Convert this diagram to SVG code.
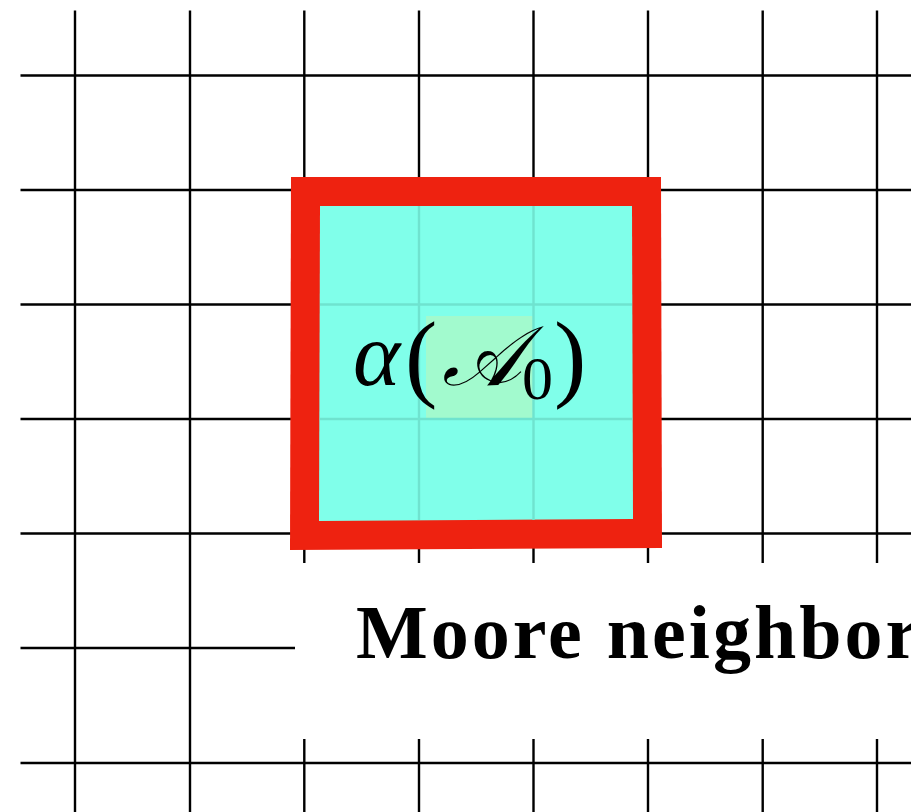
<svg xmlns="http://www.w3.org/2000/svg" width="911" height="812" viewBox="0 0 911 812">
<style>
.g{stroke:#000;stroke-width:2.4;fill:none}
.f{stroke:#6FE3CF;stroke-width:2.4;fill:none}
.m{font-family:"Liberation Serif","DejaVu Serif",serif;fill:#000}
</style>
<rect width="911" height="812" fill="#fff"/>
<g id="grid" class="g">
<path d="M75,10.5V812M190,10.5V812M304.3,10.5V812M419,10.5V812M533.5,10.5V812M648,10.5V812M762.7,10.5V812M877,10.5V812"/>
<path d="M20.5,75.5H911M20.5,190H911M20.5,304.5H911M20.5,419H911M20.5,533.5H911M20.5,648H911M20.5,763H911"/>
</g>
<g id="label">
<rect x="295" y="563" width="616" height="176" fill="#fff"/>
<text x="356" y="658" class="m" font-weight="bold" font-size="76" letter-spacing="3">Moore neighborhood</text>
</g>
<g id="neighborhood">
<polygon points="291,177 661,177 662,548 290,550" fill="#EE2210"/>
<polygon points="320,206 632,206 633,519 319,521" fill="#80FFEA"/>
<rect x="426" y="316" width="107" height="102" fill="#A2FACE"/>
<path class="f" d="M419,206V520M533.5,206V520M320,304.5H632M320,419H632"/>
<text x="353" y="385" class="m" font-style="italic" font-size="90">α</text>
<text x="405" y="389" class="m" font-size="97">(</text>
<text x="442" y="385" class="m" font-style="italic" font-size="84">𝒜</text>
<text x="522" y="399" class="m" font-size="62">0</text>
<text x="554" y="389" class="m" font-size="97">)</text>
</g>
</svg>
